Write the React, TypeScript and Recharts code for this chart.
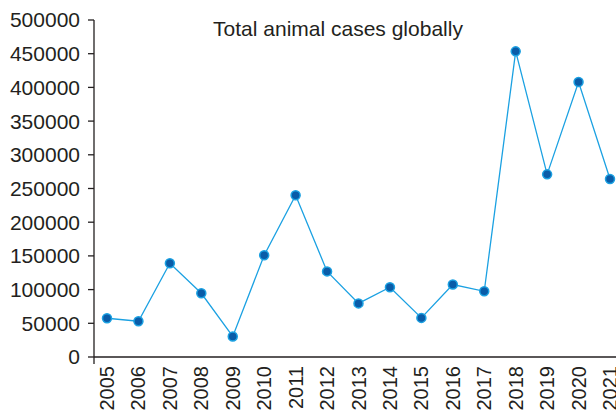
import { LineChart, Line, XAxis, YAxis, ReferenceLine } from 'recharts'

const years = ['2005', '2006', '2007', '2008', '2009', '2010', '2011', '2012', '2013', '2014', '2015', '2016', '2017', '2018', '2019', '2020', '2021']
const cases = [57500, 53000, 139000, 94500, 30500, 151000, 240000, 127000, 79500, 103500, 58000, 107500, 97500, 453500, 271000, 408000, 264000]
const yTicks = [0, 50000, 100000, 150000, 200000, 250000, 300000, 350000, 400000, 450000, 500000]

const data = years.map((year, i) => ({ year, cases: cases[i] }))

const font = '"Liberation Sans", Arial, sans-serif'
const ink = '#231f20'

// rotated year labels, reading bottom-to-top, top end just under the axis
function YearTick({ x, payload }: any) {
  const top = 366
  return (
    <text
      x={x}
      y={top}
      transform={`rotate(-90, ${x}, ${top})`}
      textAnchor="end"
      dy={7}
      fontSize={20}
      fontFamily={font}
      fill={ink}
    >
      {payload.value}
    </text>
  )
}

export default function App() {
  return (
    <div style={{ position: 'absolute', left: 0, top: 0, width: 616, height: 412, background: '#fff' }}>
      <LineChart width={616} height={412} data={data} margin={{ top: 20, right: 0, bottom: 0, left: 0 }}>
        <text x={338} y={36} textAnchor="middle" fontSize={21} fontFamily={font} fill={ink}>
          Total animal cases globally
        </text>
        <XAxis
          dataKey="year"
          height={48}
          axisLine={false}
          tickLine={false}
          interval={0}
          padding={{ left: 13, right: 6 }}
          tick={<YearTick />}
        />
        <YAxis
          width={94}
          domain={[-10400, 500000]}
          ticks={yTicks}
          allowDataOverflow
          tickSize={6}
          tickMargin={8}
          stroke={ink}
          tick={{ fontSize: 21, fontFamily: font, fill: ink }}
          axisLine={{ stroke: ink, strokeWidth: 1.3 }}
          tickLine={{ stroke: ink, strokeWidth: 1.3 }}
        />
        <ReferenceLine y={0} stroke={ink} strokeWidth={1.3} />
        <Line
          type="linear"
          dataKey="cases"
          stroke="#1ba1e2"
          strokeWidth={1.3}
          dot={{ r: 4.5, fill: '#0a5ca8', stroke: '#1ba1e2', strokeWidth: 1.5 }}
          isAnimationActive={false}
        />
      </LineChart>
    </div>
  )
}
